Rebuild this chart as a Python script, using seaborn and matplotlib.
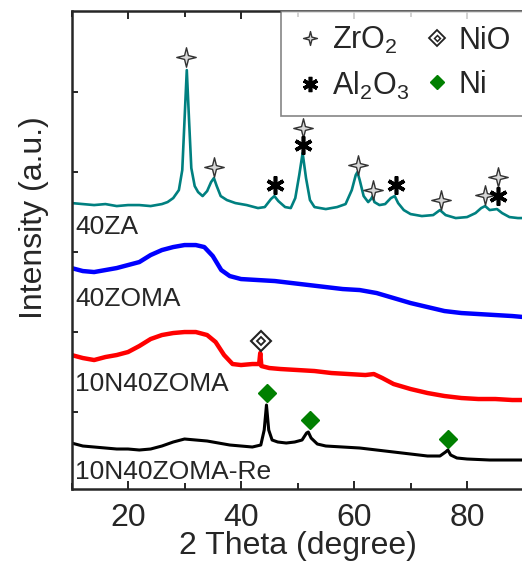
import numpy as np
import pandas as pd
import matplotlib
matplotlib.use("Agg")
import matplotlib.pyplot as plt
from matplotlib.path import Path
from matplotlib.lines import Line2D
from matplotlib.ticker import MultipleLocator
import seaborn as sns

# 2 theta / intensity (a.u.)
theta_za = [10, 12, 14, 16, 18, 20, 22, 24, 26, 27, 28, 29, 29.6, 30.0, 30.4, 30.8, 31.2, 31.8,
            32.4, 33.2, 34.0, 34.7, 35.2, 35.7, 36.4, 37.5, 39, 41, 43, 44.2, 45.3, 45.9, 46.6,
            47.8, 48.8, 49.6, 50.3, 50.9, 51.5, 52.2, 53.0, 55, 57, 58.5, 59.6, 60.3, 60.6, 61.0,
            61.7, 62.5, 63.0, 63.3, 63.6, 64.5, 65.5, 66.5, 67.2, 67.8, 68.8, 70, 72, 74, 75.2,
            76.2, 78, 80, 81.5, 82.5, 83.2, 84, 85.3, 86.2, 87.5, 89, 90]
int_za = [286, 285, 284, 285, 283, 284, 284, 283, 285, 287, 291, 299, 319, 369, 419, 369, 321, 303,
          297, 293, 298, 307, 311, 303, 293, 289, 286, 284, 281, 282, 290, 293, 288,
          282, 281, 291, 314, 336, 311, 289, 282, 280, 282, 285, 299, 314, 317, 309,
          293, 287, 290, 293, 287, 284, 285, 291, 293, 286, 279, 275, 273, 274, 279,
          274, 271, 272, 276, 281, 283, 279, 280, 276, 272, 271, 271]

theta_zoma = [10, 12, 14, 16, 18, 20, 22, 24, 26, 28, 30, 32, 33.5, 35, 36.5, 38, 40, 43, 46, 49,
              52, 55, 58, 61, 64, 67, 70, 73, 76, 79, 82, 85, 88, 90]
int_zoma = [221, 218, 217, 219, 221, 224, 227, 234, 239, 242, 244, 244, 242, 233, 219, 213, 210,
            209, 208, 206, 204, 202, 200, 199, 196, 191, 186, 182, 178, 176, 175, 174, 173, 172]

theta_n = [10, 12, 14, 16, 18, 20, 22, 24, 26, 28, 30, 32, 34, 35.5, 37, 38.5, 40, 42, 43.2, 43.4,
           43.6, 45, 47, 50, 53, 56, 59, 62, 63.5, 65, 67, 70, 73, 76, 79, 82, 85, 88, 90]
int_n = [134, 131, 129, 132, 134, 137, 143, 150, 154, 156, 157, 157, 154, 147, 134, 125, 124, 125,
         125, 136, 123, 121, 120, 119, 118, 116, 115, 114, 115, 111, 105, 100, 96, 93, 91, 90,
         90, 89, 89]

theta_re = [10, 12, 14, 16, 18, 20, 22, 24, 26, 28, 30, 32, 34, 36, 38, 40, 42, 43.5, 44.1, 44.5,
            44.9, 45.5, 46.5, 48, 49.5, 50.8, 51.6, 51.9, 52.4, 53.5, 55, 58, 61, 64, 67, 70, 73,
            75.2, 76.2, 76.6, 77.1, 78.2, 80, 84, 88, 90]
int_re = [46, 43, 42, 41, 40, 40, 39, 40, 43, 47, 50, 49, 48, 46, 44, 43, 42, 44, 59, 84,
          59, 49, 47, 46, 47, 49, 56, 57, 51, 45, 43, 42, 41, 39, 37, 35, 33,
          33, 37, 39, 34, 31, 30, 29, 29, 29]

muestras = ["40ZA", "40ZOMA", "10N40ZOMA", "10N40ZOMA-Re"]
colores = ["#008080", "#0000ff", "#ff0000", "#000000"]
grosores = [1.9, 3.2, 3.2, 2.2]
etiqueta_y = [262, 190, 105, 17]

# marcas de fases
zro2_x = [30.3, 35.3, 51.0, 60.7, 63.3, 75.4, 83.2, 85.5]
zro2_y = [432, 322, 361, 324, 299, 289, 294, 312]
al2o3_x = [46.0, 51.0, 67.4, 85.5]
al2o3_y = [304, 344, 304, 293]
nio_x = [43.5]
nio_y = [148]
ni_x = [44.6, 52.2, 76.6]
ni_y = [96, 69, 50]

frames = []
for nombre, tx, iy in zip(muestras, [theta_za, theta_zoma, theta_n, theta_re],
                          [int_za, int_zoma, int_n, int_re]):
    frames.append(pd.DataFrame({"theta": tx, "intensidad": iy, "muestra": nombre}))
df = pd.concat(frames, ignore_index=True)

sns.set_style("ticks")
plt.rcParams["font.family"] = ["Liberation Sans", "DejaVu Sans"]
plt.rcParams["mathtext.fontset"] = "custom"
plt.rcParams["mathtext.rm"] = "Liberation Sans"

fig = plt.figure(figsize=(5.22, 5.73), dpi=100)
ax = fig.add_axes([0.137, 0.1466, 0.866, 0.834])

for nombre, c, lw in zip(muestras, colores, grosores):
    sns.lineplot(data=df[df["muestra"] == nombre], x="theta", y="intensidad", color=c,
                 linewidth=lw, ax=ax, estimator=None, sort=False)

# estrella de 4 puntas
ang = np.linspace(0, 2 * np.pi, 9)[:-1] + np.pi / 2
rad = np.array([1, 0.28] * 4)
estrella = Path(np.column_stack([rad * np.cos(ang), rad * np.sin(ang)]).tolist() + [[0, 1]],
                [Path.MOVETO] + [Path.LINETO] * 7 + [Path.CLOSEPOLY])

ax.plot(zro2_x, zro2_y, ls="none", marker=estrella, ms=14, mfc="#d8d8d8", mec="#333333", mew=1)
ax.plot(al2o3_x, al2o3_y, ls="none", marker=(6, 2, 0), ms=13, mec="black", mew=2.6)
ax.plot(nio_x, nio_y, ls="none", marker="D", ms=10, mfc="white", mec="#222222", mew=1.5)
ax.plot(nio_x, nio_y, ls="none", marker="D", ms=4, mfc="white", mec="#222222", mew=1.3)
ax.plot(ni_x, ni_y, ls="none", marker="D", ms=9, color="#008000")

for nombre, yy in zip(muestras, etiqueta_y):
    ax.text(10.6, yy, nombre, fontsize=19, va="center", ha="left")

ax.set_xlim(10, 90)
ax.set_ylim(0, 478)
ax.xaxis.set_major_locator(MultipleLocator(20))
ax.xaxis.set_minor_locator(MultipleLocator(10))
ax.set_yticks([77, 157, 237, 317, 397])
ax.set_yticklabels([])
ax.tick_params(axis="x", which="both", direction="in", top=True, labelsize=23, width=1.2,
               color="black", pad=10)
ax.tick_params(axis="x", which="major", length=6)
ax.tick_params(axis="x", which="minor", length=4)
ax.tick_params(axis="y", direction="in", length=4, width=1.2, color="black")
for s in ax.spines.values():
    s.set_linewidth(1.8)

ax.set_xlabel("2 Theta (degree)", fontsize=23, labelpad=-1)
ax.set_ylabel("Intensity (a.u.)", fontsize=23)
ax.yaxis.set_label_coords(-0.05, 0.567)

nio_handle = (
    Line2D([], [], ls="none", marker="D", ms=8, mfc="white", mec="#222222", mew=1.3),
    Line2D([], [], ls="none", marker="D", ms=3, mfc="white", mec="#222222", mew=1.1),
)
handles = [
    Line2D([], [], ls="none", marker=estrella, ms=10, mfc="#d8d8d8", mec="#333333", mew=1),
    Line2D([], [], ls="none", marker=(6, 2, 0), ms=11, mec="black", mew=2.6),
    nio_handle,
    Line2D([], [], ls="none", marker="D", ms=7, color="#008000"),
]
labels = ["ZrO$_2$", "Al$_2$O$_3$", "NiO", "Ni"]
leg = ax.legend(handles, labels, ncol=2, loc="upper left", bbox_to_anchor=(0.4635, 1.0),
                fontsize=22, frameon=True, fancybox=False, edgecolor="#666666",
                handlelength=1.0, handletextpad=0.22, columnspacing=0.4, borderpad=0.45,
                labelspacing=0.45, borderaxespad=0)
leg.get_frame().set_linewidth(1.2)
leg.set_clip_on(False)

fig.savefig("out.png", dpi=100)
